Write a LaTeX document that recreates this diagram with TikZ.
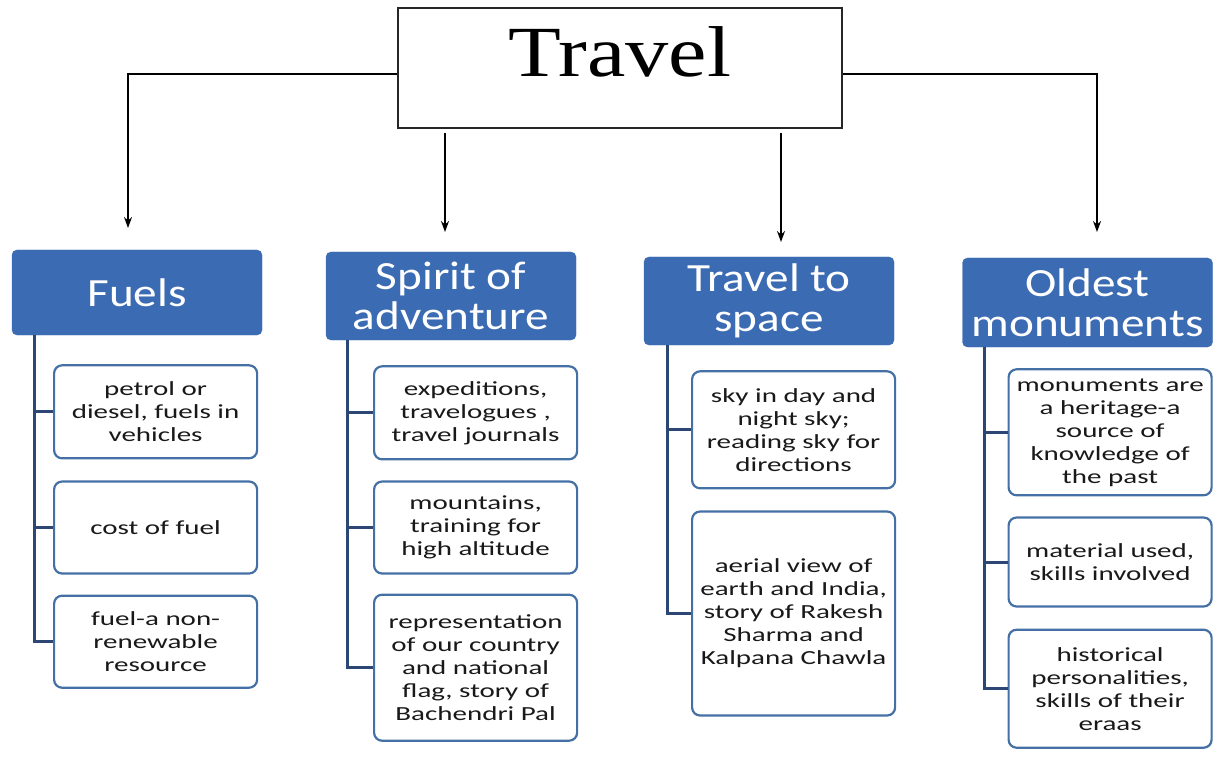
\documentclass[tikz,border=0pt]{standalone}
\usepackage{fontspec}
\setmainfont{Carlito}
\newfontfamily\headfont[FakeStretch=1.18]{Carlito}
\newfontfamily\leaffont[FakeStretch=1.45]{Carlito}
\newfontfamily\titlefont[FakeStretch=1.2]{Liberation Serif}
\usetikzlibrary{positioning, arrows.meta}
\definecolor{hdblue}{HTML}{3B6BB2}
\definecolor{leafblue}{HTML}{4470A6}
\definecolor{branchblue}{HTML}{2C4774}

\begin{document}
\begin{tikzpicture}[x=1pt, y=1pt,
    topic/.style={draw=black!85, line width=1.8pt, minimum width=444pt, inner sep=0pt,
      text height=69pt, text depth=51pt, font=\titlefont\fontsize{72}{72}\selectfont},
    head/.style={draw=hdblue, fill=hdblue, rounded corners=5pt, minimum width=250pt,
      align=center, text=white, inner sep=2pt, font=\headfont\fontsize{40}{40}\selectfont},
    leaf/.style={draw=leafblue, line width=2.2pt, fill=white, rounded corners=8pt,
      minimum width=203pt, align=center, inner sep=2pt,
      font=\leaffont\fontsize{20}{23}\selectfont, text=black!90},
    branch/.style={draw=branchblue, line width=3pt},
    arr/.style={-{Stealth[length=11pt, width=8pt]}, line width=1.6pt}]

  \useasboundingbox (0,0) rectangle (1215,-759);

  % Main topic
  \node[topic] (travel) at (620,-68) {Travel};

  % Nodes for the four headings
  \node[head, minimum height=85pt] (fuels) at (137,-292.5) {Fuels};
  \node[head, minimum height=88pt] (spirit) at (451,-296) {Spirit of\\adventure};
  \node[head, minimum height=88pt] (space) at (769,-301) {Travel to\\space};
  \node[head, minimum height=89pt] (oldest) at (1087.5,-302.5) {Oldest\\monuments};

  % Fuels
  \node[leaf, minimum height=93pt] (fuel1) [below=29pt of fuels.south east, anchor=north east, xshift=-4pt]
    {petrol or\\diesel, fuels in\\vehicles};
  \node[leaf, minimum height=92pt] (fuel2) [below=21pt of fuel1] {cost of fuel};
  \node[leaf, minimum height=92pt] (fuel3) [below=20pt of fuel2]
    {fuel-a non-\\renewable\\resource};

  % Spirit of adventure
  \node[leaf, minimum height=93pt] (spirit1) [below=25pt of spirit.south east, anchor=north east, xshift=2pt]
    {expeditions,\\travelogues ,\\travel journals};
  \node[leaf, minimum height=92pt] (spirit2) [below=20pt of spirit1]
    {mountains,\\training for\\high altitude};
  \node[leaf, minimum height=146pt] (spirit3) [below=19pt of spirit2]
    {representation\\of our country\\and national\\flag, story of\\Bachendri Pal};

  % Travel to space
  \node[leaf, minimum height=117pt] (space1) [below=25pt of space.south east, anchor=north east, xshift=2pt]
    {sky in day and\\night sky;\\reading sky for\\directions};
  \node[leaf, minimum height=204pt] (space2) [below=21pt of space1]
    {aerial view of\\earth and India,\\story of Rakesh\\Sharma and\\Kalpana Chawla};

  % Oldest monuments
  \node[leaf, minimum height=126pt] (old1) [below=21pt of oldest.south east, anchor=north east]
    {monuments are\\a heritage-a\\source of\\knowledge of\\the past};
  \node[leaf, minimum height=89pt] (old2) [below=20pt of old1]
    {material used,\\skills involved};
  \node[leaf, minimum height=118pt] (old3) [below=21pt of old2]
    {historical\\personalities,\\skills of their\\eraas};

  % Arrow ends
  \coordinate (tipfuels) at (128,-228);
  \coordinate (fromspirit) at (445,-133);
  \coordinate (tipspirit) at (445,-232);
  \coordinate (fromspace) at (781,-133);
  \coordinate (tipspace) at (781,-242);
  \coordinate (tipoldest) at (1097,-232);

  % Edges from the main topic
  \draw[arr] ([yshift=-6pt]travel.west) -| (tipfuels);
  \draw[arr] (fromspirit) -- (tipspirit);
  \draw[arr] (fromspace) -- (tipspace);
  \draw[arr] ([yshift=-6pt]travel.east) -| (tipoldest);

  % Edges from the headings to the boxes
  \draw[branch]
    ([xshift=23pt]fuels.south west) |- (fuel1.west)
    ([xshift=23pt]fuels.south west) |- (fuel2.west)
    ([xshift=23pt]fuels.south west) |- (fuel3.west);
  \draw[branch]
    ([xshift=22pt]spirit.south west) |- (spirit1.west)
    ([xshift=22pt]spirit.south west) |- (spirit2.west)
    ([xshift=22pt]spirit.south west) |- (spirit3.west);
  \draw[branch]
    ([xshift=24pt]space.south west) |- (space1.west)
    ([xshift=24pt]space.south west) |- (space2.west);
  \draw[branch]
    ([xshift=22pt]oldest.south west) |- (old1.west)
    ([xshift=22pt]oldest.south west) |- (old2.west)
    ([xshift=22pt]oldest.south west) |- (old3.west);

\end{tikzpicture}
\end{document}
